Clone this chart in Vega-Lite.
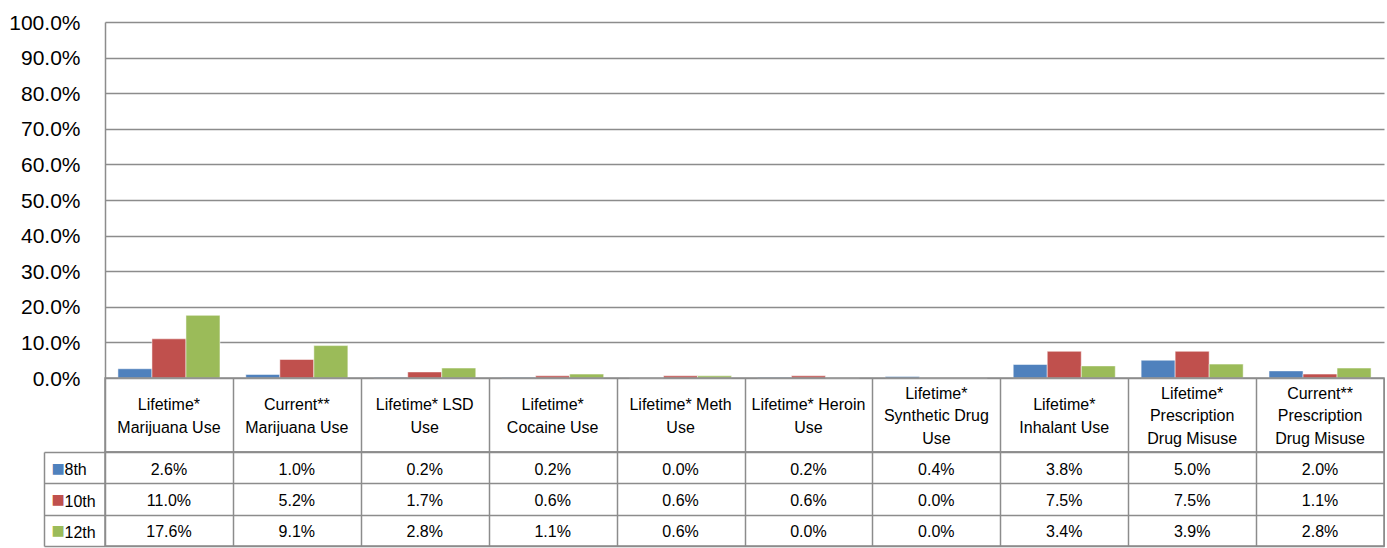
{
  "$schema": "https://vega.github.io/schema/vega-lite/v6.json",
  "padding": {"left": 8, "top": 12, "right": 0, "bottom": 0},
  "config": {"font": "Liberation Sans", "axis": {"labelColor": "#000000"}},
  "spacing": 0,
  "bounds": "flush",
  "resolve": {"scale": {"x": "independent", "y": "independent", "color": "independent"}},
  "datasets": {
    "d": [
      {"cat": "Lifetime* Marijuana Use", "grade": "8th", "value": 0.026},
      {"cat": "Lifetime* Marijuana Use", "grade": "10th", "value": 0.110},
      {"cat": "Lifetime* Marijuana Use", "grade": "12th", "value": 0.176},
      {"cat": "Current** Marijuana Use", "grade": "8th", "value": 0.010},
      {"cat": "Current** Marijuana Use", "grade": "10th", "value": 0.052},
      {"cat": "Current** Marijuana Use", "grade": "12th", "value": 0.091},
      {"cat": "Lifetime* LSD Use", "grade": "8th", "value": 0.002},
      {"cat": "Lifetime* LSD Use", "grade": "10th", "value": 0.017},
      {"cat": "Lifetime* LSD Use", "grade": "12th", "value": 0.028},
      {"cat": "Lifetime* Cocaine Use", "grade": "8th", "value": 0.002},
      {"cat": "Lifetime* Cocaine Use", "grade": "10th", "value": 0.006},
      {"cat": "Lifetime* Cocaine Use", "grade": "12th", "value": 0.011},
      {"cat": "Lifetime* Meth Use", "grade": "8th", "value": 0.000},
      {"cat": "Lifetime* Meth Use", "grade": "10th", "value": 0.006},
      {"cat": "Lifetime* Meth Use", "grade": "12th", "value": 0.006},
      {"cat": "Lifetime* Heroin Use", "grade": "8th", "value": 0.002},
      {"cat": "Lifetime* Heroin Use", "grade": "10th", "value": 0.006},
      {"cat": "Lifetime* Heroin Use", "grade": "12th", "value": 0.000},
      {"cat": "Lifetime* Synthetic Drug Use", "grade": "8th", "value": 0.004},
      {"cat": "Lifetime* Synthetic Drug Use", "grade": "10th", "value": 0.000},
      {"cat": "Lifetime* Synthetic Drug Use", "grade": "12th", "value": 0.000},
      {"cat": "Lifetime* Inhalant Use", "grade": "8th", "value": 0.038},
      {"cat": "Lifetime* Inhalant Use", "grade": "10th", "value": 0.075},
      {"cat": "Lifetime* Inhalant Use", "grade": "12th", "value": 0.034},
      {"cat": "Lifetime* Prescription Drug Misuse", "grade": "8th", "value": 0.050},
      {"cat": "Lifetime* Prescription Drug Misuse", "grade": "10th", "value": 0.075},
      {"cat": "Lifetime* Prescription Drug Misuse", "grade": "12th", "value": 0.039},
      {"cat": "Current** Prescription Drug Misuse", "grade": "8th", "value": 0.020},
      {"cat": "Current** Prescription Drug Misuse", "grade": "10th", "value": 0.011},
      {"cat": "Current** Prescription Drug Misuse", "grade": "12th", "value": 0.028}
    ],
    "c": [
      {"cat": "Lifetime* Marijuana Use", "label": "Lifetime*\nMarijuana Use"},
      {"cat": "Current** Marijuana Use", "label": "Current**\nMarijuana Use"},
      {"cat": "Lifetime* LSD Use", "label": "Lifetime* LSD\nUse"},
      {"cat": "Lifetime* Cocaine Use", "label": "Lifetime*\nCocaine Use"},
      {"cat": "Lifetime* Meth Use", "label": "Lifetime* Meth\nUse"},
      {"cat": "Lifetime* Heroin Use", "label": "Lifetime* Heroin\nUse"},
      {"cat": "Lifetime* Synthetic Drug Use", "label": "Lifetime*\nSynthetic Drug\nUse"},
      {"cat": "Lifetime* Inhalant Use", "label": "Lifetime*\nInhalant Use"},
      {"cat": "Lifetime* Prescription Drug Misuse", "label": "Lifetime*\nPrescription\nDrug Misuse"},
      {"cat": "Current** Prescription Drug Misuse", "label": "Current**\nPrescription\nDrug Misuse"}
    ]
  },
  "vconcat": [
    {
      "width": 1279,
      "height": 356,
      "view": {"stroke": null},
      "data": {"name": "d"},
      "mark": {"type": "bar", "stroke": "#ffffff", "strokeWidth": 1, "strokeOpacity": 0.5},
      "encoding": {
        "x": {
          "field": "cat", "type": "nominal",
          "sort": ["Lifetime* Marijuana Use", "Current** Marijuana Use", "Lifetime* LSD Use", "Lifetime* Cocaine Use", "Lifetime* Meth Use", "Lifetime* Heroin Use", "Lifetime* Synthetic Drug Use", "Lifetime* Inhalant Use", "Lifetime* Prescription Drug Misuse", "Current** Prescription Drug Misuse"],
          "scale": {"paddingInner": 0, "paddingOuter": 0},
          "axis": null
        },
        "xOffset": {"field": "grade", "type": "nominal", "sort": ["8th", "10th", "12th"], "scale": {"paddingInner": 0, "paddingOuter": 0.38}},
        "y": {
          "field": "value", "type": "quantitative",
          "scale": {"domain": [0, 1], "nice": false},
          "axis": {
            "title": null, "values": [0, 0.1, 0.2, 0.3, 0.4, 0.5, 0.6, 0.7, 0.8, 0.9, 1],
            "format": ".1%", "labelFontSize": 21, "labelPadding": 25, "labelOffset": 1,
            "ticks": false, "tickSize": 0,
            "domainColor": "#8c8c8c", "domainWidth": 1.5,
            "gridColor": "#8c8c8c", "gridWidth": 1.5, "gridOpacity": 1
          }
        },
        "color": {
          "field": "grade", "type": "nominal",
          "scale": {"domain": ["8th", "10th", "12th"], "range": ["#4F81BD", "#C0504D", "#9BBB59"]},
          "legend": null
        }
      }
    },
    {
      "width": 1279,
      "height": 74,
      "view": {"stroke": "#8c8c8c", "strokeWidth": 1.5},
      "data": {"name": "c"},
      "encoding": {
        "x": {
          "field": "cat", "type": "nominal",
          "sort": ["Lifetime* Marijuana Use", "Current** Marijuana Use", "Lifetime* LSD Use", "Lifetime* Cocaine Use", "Lifetime* Meth Use", "Lifetime* Heroin Use", "Lifetime* Synthetic Drug Use", "Lifetime* Inhalant Use", "Lifetime* Prescription Drug Misuse", "Current** Prescription Drug Misuse"],
          "scale": {"paddingInner": 0, "paddingOuter": 0},
          "axis": {"title": null, "labels": false, "ticks": false, "domain": false, "grid": true, "tickBand": "extent", "gridColor": "#8c8c8c", "gridWidth": 1.5, "gridOpacity": 1}
        },
        "text": {"field": "label"}
      },
      "layer": [
        {
          "transform": [{"filter": "length(split(datum.label, '\\n')) == 2"}],
          "mark": {"type": "text", "lineBreak": "\n", "fontSize": 16, "lineHeight": 22.7, "baseline": "middle", "dy": -9.8, "color": "#000000"}
        },
        {
          "transform": [{"filter": "length(split(datum.label, '\\n')) == 3"}],
          "mark": {"type": "text", "lineBreak": "\n", "fontSize": 16, "lineHeight": 22.7, "baseline": "middle", "dy": -21.4, "color": "#000000"}
        }
      ]
    },
    {
      "width": 1279,
      "height": 94,
      "view": {"stroke": "#8c8c8c", "strokeWidth": 1.5},
      "data": {"name": "d"},
      "resolve": {"axis": {"y": "independent"}},
      "layer": [
        {
          "mark": {"type": "text", "fontSize": 16, "baseline": "middle", "dy": 2, "color": "#000000"},
          "encoding": {
            "x": {
              "field": "cat", "type": "nominal",
              "sort": ["Lifetime* Marijuana Use", "Current** Marijuana Use", "Lifetime* LSD Use", "Lifetime* Cocaine Use", "Lifetime* Meth Use", "Lifetime* Heroin Use", "Lifetime* Synthetic Drug Use", "Lifetime* Inhalant Use", "Lifetime* Prescription Drug Misuse", "Current** Prescription Drug Misuse"],
              "scale": {"paddingInner": 0, "paddingOuter": 0},
              "axis": {"title": null, "labels": false, "ticks": false, "domain": false, "grid": true, "tickBand": "extent", "gridColor": "#8c8c8c", "gridWidth": 1.5, "gridOpacity": 1}
            },
            "y": {
              "field": "grade", "type": "nominal", "sort": ["8th", "10th", "12th"],
              "scale": {"paddingInner": 0, "paddingOuter": 0},
              "axis": {
                "orient": "left", "title": null, "tickBand": "extent",
                "ticks": true, "tickSize": 61, "tickColor": "#8c8c8c", "tickWidth": 1.5,
                "grid": true, "gridColor": "#8c8c8c", "gridWidth": 1.5, "gridOpacity": 1,
                "domain": false, "labelAlign": "left", "labelPadding": -20, "labelFontSize": 16,
                "labelBaseline": "middle", "labelOffset": 2
              }
            },
            "text": {"field": "value", "format": ".1%"}
          }
        },
        {
          "mark": {"type": "text", "opacity": 0},
          "encoding": {
            "y": {
              "field": "grade", "type": "nominal", "sort": ["8th", "10th", "12th"],
              "axis": {
                "orient": "left", "title": null, "offset": 61, "ticks": false, "tickSize": 0,
                "grid": false, "domain": true, "domainColor": "#8c8c8c", "domainWidth": 1.5,
                "labelExpr": "'■'", "labelAlign": "left", "labelPadding": -7, "labelOffset": 1,
                "labelFont": "DejaVu Sans", "labelFontSize": 14, "labelBaseline": "middle",
                "labelColor": {"expr": "datum.value === '8th' ? '#4F81BD' : datum.value === '10th' ? '#C0504D' : '#9BBB59'"}
              }
            },
            "text": {"field": "grade"}
          }
        }
      ]
    }
  ]
}
